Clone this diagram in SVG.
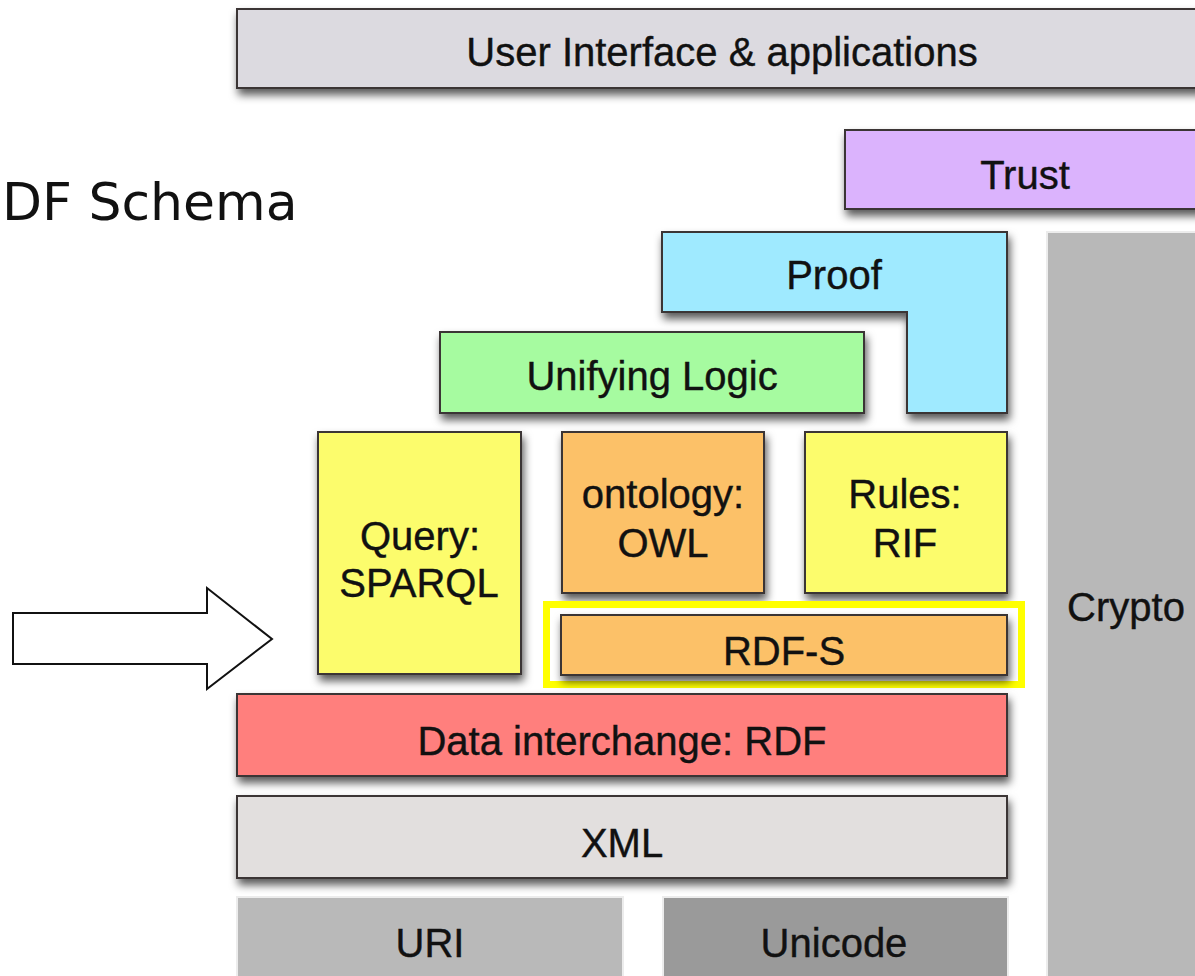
<svg xmlns="http://www.w3.org/2000/svg" width="1195" height="976" viewBox="0 0 1195 976">
  <defs>
    <filter id="drop" x="-5%" y="-10%" width="115%" height="140%">
      <feDropShadow dx="2" dy="6" stdDeviation="4" flood-color="#000" flood-opacity="0.65"/>
    </filter>
  </defs>
  <style>
    .box { stroke: #3a3535; stroke-width: 2; filter: url(#drop); }
    .flat { stroke: #ececec; stroke-width: 2; }
    .lbl { font-family: "Liberation Sans", Arial, sans-serif; font-size: 40px; fill: #111; stroke: #111; stroke-width: 0.4; text-anchor: middle; }
    .title { font-family: "DejaVu Sans", Verdana, sans-serif; font-size: 52px; fill: #111; }
  </style>

  <rect width="1195" height="976" fill="#fff"/>

  <text class="title" x="2" y="220">DF Schema</text>

  <g id="crypto">
    <rect class="flat" x="1047" y="232" width="170" height="760" fill="#b8b8b8"/>
    <text class="lbl" x="1126" y="621">Crypto</text>
  </g>

  <g id="user-interface">
    <rect class="box" x="237" y="9" width="975" height="79" fill="#dcdae0"/>
    <text class="lbl" x="722" y="66">User Interface &amp; applications</text>
  </g>

  <g id="trust">
    <rect class="box" x="845" y="130" width="370" height="79" fill="#dbb3fd"/>
    <text class="lbl" x="1025" y="189">Trust</text>
  </g>

  <g id="proof">
    <polygon class="box" points="662,232 1007,232 1007,413 907,413 907,312 662,312" fill="#9feaff"/>
    <text class="lbl" x="834" y="289">Proof</text>
  </g>

  <g id="unifying-logic">
    <rect class="box" x="440" y="332" width="424" height="81" fill="#a6fba0"/>
    <text class="lbl" x="652" y="390">Unifying Logic</text>
  </g>

  <g id="query-sparql">
    <rect class="box" x="318" y="432" width="203" height="242" fill="#fcfc6c"/>
    <text class="lbl" x="420" y="550">Query:</text>
    <text class="lbl" x="419" y="597">SPARQL</text>
  </g>

  <g id="ontology-owl">
    <rect class="box" x="562" y="432" width="202" height="161" fill="#fcc168"/>
    <text class="lbl" x="663" y="508">ontology:</text>
    <text class="lbl" x="663" y="557">OWL</text>
  </g>

  <g id="rules-rif">
    <rect class="box" x="805" y="432" width="202" height="161" fill="#fcfc6c"/>
    <text class="lbl" x="905" y="508">Rules:</text>
    <text class="lbl" x="905" y="557">RIF</text>
  </g>

  <g id="rdf-s">
    <rect x="546.5" y="604.5" width="475" height="80" fill="none" stroke="#ffff00" stroke-width="7"/>
    <rect class="box" x="561" y="615" width="446" height="60" fill="#fcc168"/>
    <text class="lbl" x="784" y="665">RDF-S</text>
  </g>

  <g id="data-interchange-rdf">
    <rect class="box" x="237" y="694" width="770" height="82" fill="#ff7f7d"/>
    <text class="lbl" x="622" y="755">Data interchange: RDF</text>
  </g>

  <g id="xml">
    <rect class="box" x="237" y="796" width="770" height="82" fill="#e2dfde"/>
    <text class="lbl" x="622" y="857">XML</text>
  </g>

  <g id="uri">
    <rect class="flat" x="237" y="897" width="386" height="95" fill="#b9b9b9"/>
    <text class="lbl" x="430" y="957">URI</text>
  </g>

  <g id="unicode">
    <rect class="flat" x="663" y="897" width="345" height="95" fill="#9a9a9a"/>
    <text class="lbl" x="834" y="957">Unicode</text>
  </g>

  <g id="connectors">
    <polygon points="13,613 207,613 207,588 272,639 207,689 207,664 13,664" fill="#fff" stroke="#111" stroke-width="2" stroke-linejoin="miter"/>
  </g>
</svg>
